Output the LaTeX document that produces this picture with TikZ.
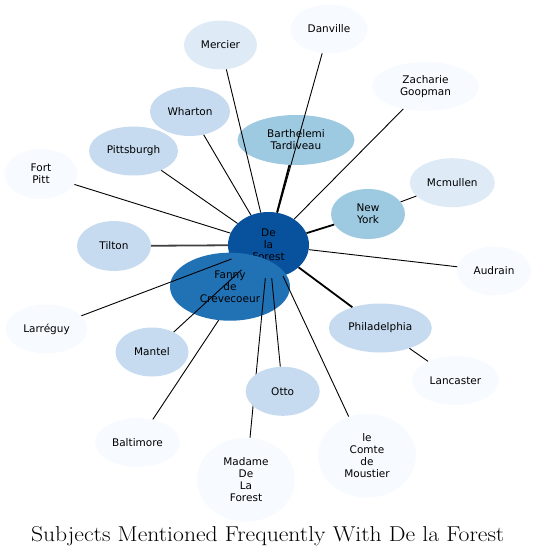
\documentclass[tikz,border=0pt]{standalone}
\usepackage{fontspec}
\newfontfamily\subjfont{DejaVu Sans}
\usetikzlibrary{shapes.geometric}

\definecolor{blues0}{HTML}{F7FBFF}
\definecolor{blues1}{HTML}{DEEBF7}
\definecolor{blues2}{HTML}{C6DBEF}
\definecolor{blues3}{HTML}{9ECAE1}
\definecolor{blues5}{HTML}{2171B5}
\definecolor{blues6}{HTML}{08519C}

\begin{document}
\begin{tikzpicture}[x=1pt, y=-1pt,
    subject/.style={ellipse, inner sep=0pt, align=center, minimum height=49pt, font=\subjfont\fontsize{10.5}{12}\selectfont},
    rare/.style={subject, fill=blues0},
    seldom/.style={subject, fill=blues1},
    often/.style={subject, fill=blues2},
    frequent/.style={subject, fill=blues3},
    tie/.style={black, line width=0.9pt},
    heavytie/.style={black, line width=1.8pt}
]
\useasboundingbox (0,0) rectangle (536,557);

% Central subject
\node[subject, fill=blues6, minimum width=81pt, minimum height=66pt] (forest) at (268.5,245) {De\\la\\Forest};

% Outer subjects
\node[seldom, minimum width=73pt] (mercier) at (220.5,45) {Mercier};
\node[rare, minimum width=77pt] (danville) at (329,29) {Danville};
\node[rare, minimum width=107pt] (goopman) at (425.5,86.5) {Zacharie\\Goopman};
\node[often, minimum width=80pt] (wharton) at (190,111.5) {Wharton};
\node[frequent, minimum width=117pt, minimum height=50pt] (tardiveau) at (296,140) {Barthelemi\\Tardiveau};
\node[often, minimum width=89pt] (pittsburgh) at (133.5,151) {Pittsburgh};
\node[rare, minimum width=73pt, minimum height=50pt] (fortpitt) at (41,174) {Fort\\Pitt};
\node[seldom, minimum width=85pt] (mcmullen) at (452.3,182.7) {Mcmullen};
\node[frequent, minimum width=74pt, minimum height=50pt] (newyork) at (368,214) {New\\York};
\node[often, minimum width=74pt, minimum height=50pt] (tilton) at (114,246) {Tilton};
\node[rare, minimum width=74pt] (audrain) at (494,271) {Audrain};
\node[rare, minimum width=82pt] (larreguy) at (46.5,329) {Larréguy};
\node[often, minimum width=103pt] (philadelphia) at (380.3,328) {Philadelphia};
\node[often, minimum width=73pt] (mantel) at (152,352) {Mantel};
\node[rare, minimum width=87pt] (lancaster) at (455.5,380.5) {Lancaster};
\node[rare, minimum width=85pt] (baltimore) at (137.5,442.5) {Baltimore};
\node[rare, minimum width=98pt, minimum height=84pt] (madame) at (246,479.7) {Madame\\De\\La\\Forest};
\node[rare, minimum width=98pt, minimum height=84pt] (moustier) at (367,455.7) {le\\Comte\\de\\Moustier};

% Links hidden behind Fanny and Otto
\draw[tie] (forest) -- (baltimore);
\node[subject, fill=blues5, minimum width=120pt, minimum height=68pt] (fanny) at (230,286.7) {Fanny\\de\\Crevecoeur};
\draw[tie] (forest) -- (madame);
\node[often, minimum width=74pt] (otto) at (282.7,391.3) {Otto};

% Links from the central subject
\draw[tie] (forest) -- (mercier);
\draw[tie] (forest) -- (danville);
\draw[tie] (forest) -- (goopman);
\draw[tie] (forest) -- (wharton);
\draw[heavytie] (forest) -- (tardiveau);
\draw[tie] (forest) -- (pittsburgh);
\draw[tie] (forest) -- (fortpitt);
\draw[heavytie] (forest) -- (newyork);
\draw[heavytie, black!75] (forest) -- (tilton);
\draw[tie] (forest) -- (audrain);
\draw[tie] (forest) -- (larreguy);
\draw[heavytie] (forest) -- (philadelphia);
\draw[tie] (forest) -- (mantel);
\draw[tie] (forest) -- (otto);
\draw[tie] (forest) -- (moustier);

% Secondary links
\draw[tie] (newyork) -- (mcmullen);
\draw[tie] (philadelphia) -- (lancaster);

% Title
\node[anchor=base, font=\fontsize{21.5}{25}\selectfont] (title) at (267.7,541.7) {\scalebox{1.1}[1]{Subjects Mentioned Frequently With De la Forest}};

\end{tikzpicture}
\end{document}
